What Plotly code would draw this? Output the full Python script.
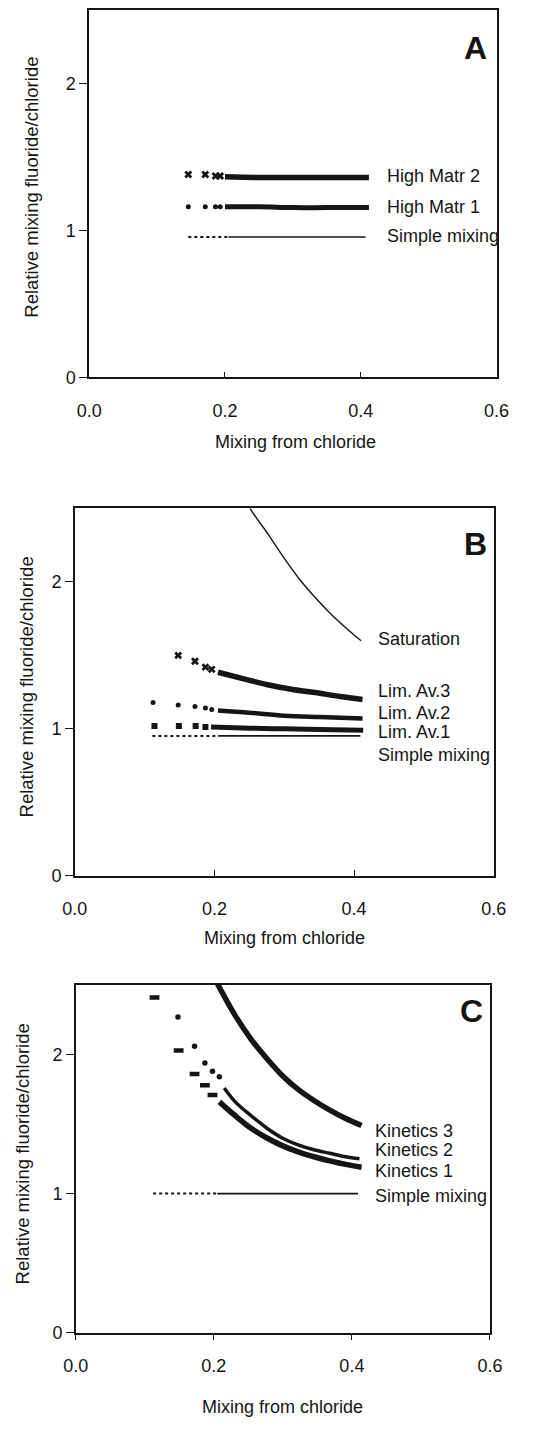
import plotly.graph_objects as go

W, H = 541, 1429
INK = "#151515"
FONT = "Liberation Sans, Arial, sans-serif"

X_TICKS = [0.0, 0.2, 0.4, 0.6]
Y_TICKS = [0, 1, 2]

# ---------------- Panel A: high matrix contribution ----------------
a_sparse_x = [0.146, 0.171, 0.186, 0.193]
a_dense_x = [0.200, 0.250, 0.300, 0.350, 0.412]
hm2_sparse_y = [1.38, 1.38, 1.37, 1.37]
hm2_dense_y = [1.365, 1.36, 1.36, 1.36, 1.36]
hm1_sparse_y = [1.16, 1.16, 1.16, 1.16]
hm1_dense_y = [1.16, 1.16, 1.155, 1.155, 1.155]
a_simple_dot_x = [0.146, 0.205]
a_simple_solid_x = [0.205, 0.407]
a_simple_y = [0.955, 0.955]
a_labels = ["High Matr 2", "High Matr 1", "Simple mixing"]
a_label_y = [1.37, 1.16, 0.96]

# ---------------- Panel B: limited availability ----------------
b_sparse_x = [0.112, 0.148, 0.172, 0.187, 0.196]
lim3_sparse_y = [1.50, 1.46, 1.42, 1.405]
lim3_dense_x = [0.205, 0.242, 0.276, 0.310, 0.344, 0.380, 0.412]
lim3_dense_y = [1.385, 1.34, 1.30, 1.27, 1.247, 1.22, 1.20]
lim2_sparse_y = [1.18, 1.162, 1.153, 1.142, 1.131]
lim2_dense_x = [0.205, 0.250, 0.300, 0.350, 0.412]
lim2_dense_y = [1.125, 1.11, 1.09, 1.08, 1.07]
lim1_sparse_x = [0.114, 0.149, 0.173, 0.187]
lim1_sparse_y = [1.02, 1.02, 1.02, 1.013]
lim1_dense_x = [0.195, 0.250, 0.300, 0.350, 0.413]
lim1_dense_y = [1.012, 1.005, 1.0, 0.995, 0.99]
sat_x = [0.245, 0.251, 0.276, 0.300, 0.3215, 0.345, 0.367, 0.390, 0.410]
sat_y = [2.57, 2.50, 2.33, 2.16, 2.02, 1.89, 1.78, 1.68, 1.60]
b_simple_dot_x = [0.111, 0.205]
b_simple_solid_x = [0.205, 0.409]
b_simple_y = [0.952, 0.952]
b_labels = ["Saturation", "Lim. Av.3", "Lim. Av.2", "Lim. Av.1", "Simple mixing"]
b_label_y = [1.61, 1.26, 1.11, 0.98, 0.82]

# ---------------- Panel C: kinetics ----------------
k1_sparse_x = [0.114, 0.149, 0.172, 0.187, 0.198]
k1_sparse_y = [2.41, 2.03, 1.86, 1.78, 1.71]
k1_dense_x = [0.208, 0.231, 0.254, 0.277, 0.299, 0.322, 0.345, 0.368, 0.391, 0.414]
k1_dense_y = [1.66, 1.56, 1.47, 1.40, 1.345, 1.30, 1.265, 1.235, 1.21, 1.19]
k2_sparse_x = [0.148, 0.172, 0.187, 0.198, 0.208]
k2_sparse_y = [2.27, 2.06, 1.94, 1.88, 1.84]
k2_dense_x = [0.215, 0.231, 0.254, 0.277, 0.299, 0.322, 0.345, 0.368, 0.391, 0.411]
k2_dense_y = [1.76, 1.66, 1.56, 1.47, 1.40, 1.35, 1.315, 1.29, 1.265, 1.25]
k3_x = [0.203, 0.231, 0.254, 0.277, 0.299, 0.322, 0.345, 0.368, 0.391, 0.414]
k3_y = [2.53, 2.28, 2.11, 1.97, 1.85, 1.75, 1.67, 1.60, 1.54, 1.49]
c_simple_dot_x = [0.112, 0.205]
c_simple_solid_x = [0.205, 0.409]
c_simple_y = [1.0, 1.0]
c_labels = ["Kinetics 3", "Kinetics 2", "Kinetics 1", "Simple mixing"]
c_label_y = [1.45, 1.31, 1.16, 0.98]

fig = go.Figure()


def markers(ax, x, y, symbol, size, lw=0):
    fig.add_trace(go.Scatter(
        x=x, y=y, xaxis="x" + ax, yaxis="y" + ax, mode="markers",
        marker=dict(symbol=symbol, size=size, color=INK,
                    line=dict(color=INK, width=lw)),
        showlegend=False, hoverinfo="skip", cliponaxis=True))


def band(ax, x, y, width, dash="solid", shape="spline"):
    fig.add_trace(go.Scatter(
        x=x, y=y, xaxis="x" + ax, yaxis="y" + ax, mode="lines",
        line=dict(color=INK, width=width, dash=dash, shape=shape),
        showlegend=False, hoverinfo="skip"))


# Panel A traces
markers("", a_sparse_x, hm2_sparse_y, "x", 7)
band("", a_dense_x, hm2_dense_y, 5.5)
markers("", a_sparse_x, hm1_sparse_y, "circle", 5)
band("", a_dense_x, hm1_dense_y, 5)
band("", a_simple_dot_x, a_simple_y, 2, dash="dot", shape="linear")
band("", a_simple_solid_x, a_simple_y, 1.6, shape="linear")

# Panel B traces
band("2", sat_x, sat_y, 1.4)
markers("2", b_sparse_x[1:], lim3_sparse_y, "x", 7)
band("2", lim3_dense_x, lim3_dense_y, 5.5)
markers("2", b_sparse_x, lim2_sparse_y, "circle", 5)
band("2", lim2_dense_x, lim2_dense_y, 4.5)
markers("2", lim1_sparse_x, lim1_sparse_y, "square", 6)
band("2", lim1_dense_x, lim1_dense_y, 5)
band("2", b_simple_dot_x, b_simple_y, 2, dash="dot", shape="linear")
band("2", b_simple_solid_x, b_simple_y, 1.6, shape="linear")

# Panel C traces
markers("3", k1_sparse_x, k1_sparse_y, "line-ew", 7, lw=4.5)
band("3", k1_dense_x, k1_dense_y, 5.5)
markers("3", k2_sparse_x, k2_sparse_y, "circle", 5.5)
band("3", k2_dense_x, k2_dense_y, 3.5)
band("3", k3_x, k3_y, 5.5)
band("3", c_simple_dot_x, c_simple_y, 2, dash="dot", shape="linear")
band("3", c_simple_solid_x, c_simple_y, 1.6, shape="linear")

# Panel geometry in pixels: left, right, top, bottom
panels = [
    ("", 80, 508, 10, 380, "inside"),
    ("2", 65, 505, 512, 882, "inside"),
    ("3", 66, 501, 992, 1342, "outside"),
]

layout = dict(
    width=W, height=H, margin=dict(l=0, r=0, t=0, b=0),
    paper_bgcolor="white", plot_bgcolor="white",
    font=dict(family=FONT, color=INK, size=18),
    showlegend=False,
)

for ax, x0, x1, y0, y1, xt in panels:
    xa = "xaxis" + ax
    ya = "yaxis" + ax
    layout[xa] = dict(
        domain=[x0 / W, x1 / W], range=[0, 0.6], anchor="y" + ax,
        tickvals=X_TICKS, tickformat=".1f", ticks=xt, ticklen=6,
        tickwidth=1.2, tickcolor=INK, ticklabelstandoff=16 if xt == "inside" else 10,
        showline=True, linecolor=INK, linewidth=1.5, mirror=True,
        showgrid=False, zeroline=False, tickfont=dict(size=18, family=FONT),
    )
    layout[ya] = dict(
        domain=[1 - y1 / H, 1 - y0 / H], range=[0, 2.5], anchor="x" + ax,
        tickvals=Y_TICKS, ticks="outside", ticklen=8, tickwidth=1.2,
        tickcolor=INK, showline=True, linecolor=INK, linewidth=1.5,
        mirror=True, showgrid=False, zeroline=False,
        tickfont=dict(size=18, family=FONT),
    )

annotations = []

# Axis titles (paper coordinates from pixel positions)
x_title_y = [445, 945, 1417]
x_title_x = [297, 285, 283]
y_title_x = [20, 14, 10]
y_title_y = [189, 692, 1162]
for i in range(3):
    annotations.append(dict(
        text="Mixing from chloride", xref="paper", yref="paper",
        x=x_title_x[i] / W, y=1 - x_title_y[i] / H, showarrow=False,
        xanchor="center", yanchor="middle", font=dict(size=18)))
    annotations.append(dict(
        text="Relative mixing fluoride/chloride", xref="paper", yref="paper",
        x=y_title_x[i] / W, y=1 - y_title_y[i] / H, showarrow=False,
        textangle=-90, xanchor="center", yanchor="middle", font=dict(size=18.5)))

# Series labels beside each curve
for ax, labels, ys, lx in [("", a_labels, a_label_y, 0.436),
                          ("2", b_labels, b_label_y, 0.432),
                          ("3", c_labels, c_label_y, 0.430)]:
    for t, yv in zip(labels, ys):
        annotations.append(dict(
            text=t, xref="x" + ax, yref="y" + ax, x=lx, y=yv,
            showarrow=False, xanchor="left", yanchor="middle",
            font=dict(size=18)))

# Panel letters
for ax, letter, lx, ly in [("", "A", 0.569, 2.24), ("2", "B", 0.574, 2.26),
                           ("3", "C", 0.573, 2.31)]:
    annotations.append(dict(
        text="<b>%s</b>" % letter, xref="x" + ax, yref="y" + ax, x=lx, y=ly,
        showarrow=False, xanchor="center", yanchor="middle",
        font=dict(size=32, family=FONT)))

layout["annotations"] = annotations
fig.update_layout(**layout)
fig.write_html("out.html")
